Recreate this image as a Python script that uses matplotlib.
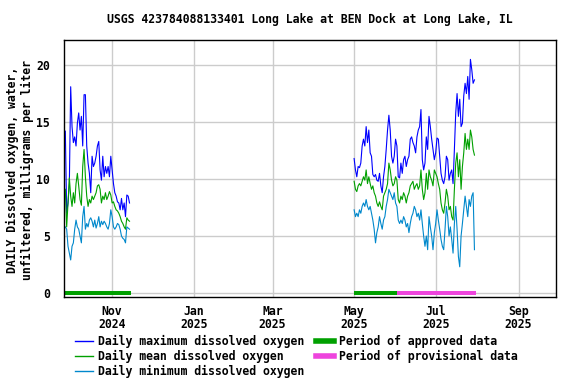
import numpy as np
import pandas as pd
import matplotlib
matplotlib.use("Agg")
import matplotlib.pyplot as plt
from matplotlib.lines import Line2D

plt.rcParams['font.family'] = ['DejaVu Sans Mono']
plt.rcParams['font.weight'] = 'bold'
FS = 8.3

title = "USGS 423784088133401 Long Lake at BEN Dock at Long Lake, IL"
ylabel = "DAILY Dissolved oxygen, water,\nunfiltered, milligrams per liter"

# fall 2024 record (daily, starting 2024-09-27)
start_1 = "2024-09-27"
max_1 = [14.2, 7.0, 7.9, 9.6, 18.1, 14.6, 13.2, 13.7, 12.9, 14.9, 15.8, 14.3, 15.5, 12.9,
         17.4, 17.4, 12.9, 11.4, 10.5, 8.8, 12.0, 11.1, 11.4, 12.0, 12.9, 13.3, 10.8, 9.9,
         12.0, 10.2, 11.1, 10.5, 11.1, 10.2, 12.0, 10.8, 9.6, 8.8, 8.5, 8.0, 7.9, 7.3, 8.3,
         7.3, 7.9, 6.7, 8.6, 8.5, 7.9]
mean_1 = [9.1, 5.8, 7.9, 10.1, 8.5, 7.6, 8.8, 7.9, 9.6, 10.5, 9.4, 8.2, 7.7, 11.1, 12.6,
          10.2, 8.5, 7.6, 8.2, 7.9, 8.5, 8.2, 8.5, 8.8, 9.4, 9.5, 9.1, 7.9, 8.5, 8.2, 8.8,
          8.2, 8.5, 8.9, 8.6, 7.9, 8.0, 7.6, 7.3, 7.2, 7.0, 6.7, 6.3, 6.1, 5.8, 5.6, 6.6,
          6.4, 6.3]
min_1 = [5.8, 5.6, 4.1, 3.5, 2.9, 4.1, 4.4, 5.6, 6.4, 5.8, 5.6, 5.0, 4.4, 6.7, 7.6, 5.6,
         6.1, 5.8, 6.4, 6.6, 6.3, 5.8, 6.4, 5.7, 6.1, 6.7, 5.8, 6.3, 6.0, 6.3, 6.1, 5.8,
         5.6, 6.1, 7.3, 6.7, 5.8, 5.6, 5.8, 6.1, 6.0, 5.6, 5.0, 4.8, 4.7, 4.4, 5.8, 5.7,
         5.6]

# summer 2025 record (daily, starting 2025-05-01)
start_2 = "2025-05-01"
max_2 = [11.8, 10.8, 10.2, 11.1, 11.0, 11.4, 12.9, 13.5, 12.9, 14.6, 13.2, 14.3, 12.3,
         12.0, 10.4, 10.2, 10.4, 9.9, 9.8, 10.5, 9.4, 8.8, 10.2, 11.1, 12.6, 14.3, 15.6,
         14.3, 12.0, 11.4, 12.0, 13.5, 12.9, 10.2, 10.1, 11.4, 10.5, 11.7, 12.0, 11.1,
         11.7, 12.0, 13.5, 13.7, 13.2, 12.9, 12.3, 13.7, 14.3, 14.6, 16.1, 11.7, 10.8,
         11.4, 13.7, 12.6, 15.5, 14.6, 13.5, 12.6, 11.7, 12.3, 13.6, 13.5, 12.0, 10.5,
         9.9, 9.6, 10.2, 12.0, 11.7, 9.9, 10.5, 10.8, 9.6, 12.6, 15.8, 17.5, 15.5, 17.0,
         14.6, 14.9, 17.3, 18.4, 17.5, 19.0, 17.0, 20.5, 19.6, 18.4, 18.7]
mean_2 = [9.8, 9.1, 8.9, 9.4, 9.6, 9.4, 9.8, 10.2, 9.9, 10.8, 9.6, 10.2, 9.6, 9.1, 9.4,
          8.8, 8.5, 7.9, 7.6, 8.0, 7.6, 7.3, 8.5, 8.8, 9.1, 9.6, 11.4, 10.8, 9.9, 9.4,
          9.6, 10.2, 9.9, 8.2, 7.9, 8.5, 8.2, 8.8, 8.5, 7.9, 8.5, 8.8, 9.4, 9.6, 9.8,
          9.1, 9.4, 9.6, 9.1, 9.4, 10.8, 9.1, 8.2, 8.8, 10.5, 9.1, 10.8, 10.2, 9.9, 9.4,
          10.8, 10.5, 10.2, 9.6, 9.1, 7.9, 7.3, 7.0, 7.9, 9.1, 8.5, 7.3, 7.6, 6.7, 6.4,
          9.1, 11.4, 12.3, 10.2, 11.7, 9.1, 11.1, 12.3, 14.0, 12.6, 13.5, 12.6, 14.3,
          13.7, 12.6, 12.1]
min_2 = [7.3, 6.7, 7.0, 6.7, 7.3, 7.0, 7.6, 7.9, 7.6, 8.2, 7.6, 7.3, 7.6, 7.0, 6.4, 5.6,
         4.4, 5.3, 5.8, 6.7, 6.1, 5.6, 6.4, 6.7, 7.6, 8.2, 9.1, 8.8, 8.5, 8.2, 8.8, 7.9,
         7.6, 6.4, 6.1, 6.4, 6.1, 6.7, 6.4, 5.8, 6.1, 5.3, 6.1, 6.7, 7.0, 7.6, 7.3, 6.7,
         7.0, 6.4, 7.3, 6.1, 5.0, 4.1, 5.0, 3.8, 6.7, 5.8, 5.0, 3.8, 5.3, 6.1, 7.3, 6.4,
         5.6, 4.7, 4.1, 3.8, 5.6, 7.6, 6.7, 5.0, 5.8, 4.7, 3.5, 6.1, 7.6, 5.6, 3.2, 2.3,
         5.0, 6.1, 7.3, 8.5, 7.6, 6.7, 8.2, 7.6, 8.5, 8.8, 3.8]

# approval periods (start, end)
approved = [("2024-09-26", "2024-11-15"), ("2025-05-01", "2025-06-02")]
provisional = [("2025-06-02", "2025-07-31")]

tick_dates = ["2024-11-01", "2025-01-01", "2025-03-01", "2025-05-01", "2025-07-01", "2025-09-01"]
tick_labels = ["Nov\n2024", "Jan\n2025", "Mar\n2025", "May\n2025", "Jul\n2025", "Sep\n2025"]

c_max = "#0000ff"
c_mean = "#00a000"
c_min = "#0088cc"
c_prov = "#ee44dd"

fig = plt.figure(figsize=(5.76, 3.84), dpi=100)
ax = fig.add_axes([64 / 576, 1 - 297 / 384, 492 / 576, 257 / 384])

for start, mx, mn, lo in [(start_1, max_1, mean_1, min_1), (start_2, max_2, mean_2, min_2)]:
    d = pd.date_range(start, periods=len(mx), freq="D")
    ax.plot(d, mx, color=c_max, lw=0.8)
    ax.plot(d, mn, color=c_mean, lw=0.8)
    ax.plot(d, lo, color=c_min, lw=0.8)

for a, b in approved:
    ax.plot([pd.Timestamp(a), pd.Timestamp(b)], [0, 0], color=c_mean, lw=2.9,
            solid_capstyle="butt", clip_on=False)
for a, b in provisional:
    ax.plot([pd.Timestamp(a), pd.Timestamp(b)], [0, 0], color=c_prov, lw=2.9,
            solid_capstyle="butt", clip_on=False)

ax.set_xlim(pd.Timestamp("2024-09-26"), pd.Timestamp("2025-09-29"))
ax.set_ylim(-0.35, 22.2)
ax.set_yticks([0, 5, 10, 15, 20])
ax.set_xticks([pd.Timestamp(t) for t in tick_dates])
ax.set_xticklabels(tick_labels)
for lab in ax.get_xticklabels():
    lab.set_linespacing(0.95)
ax.tick_params(length=0, labelsize=FS, pad=6)
ax.tick_params(axis="y", pad=10)
ax.grid(True, color="#cccccc", lw=1)
ax.set_axisbelow(True)
for s in ax.spines.values():
    s.set_linewidth(1)

fig.text(310 / 576, 1 - 20 / 384, title, ha="center", va="center", fontsize=FS, fontweight="bold")
fig.text(20 / 576, 1 - 170 / 384, ylabel, ha="center", va="center", rotation=90,
         fontsize=FS, fontweight="bold", linespacing=1.1)

handles = [Line2D([], [], color=c_max, lw=1),
           Line2D([], [], color=c_mean, lw=1),
           Line2D([], [], color=c_min, lw=1),
           Line2D([], [], color=c_mean, lw=4),
           Line2D([], [], color=c_prov, lw=4)]
labels = ["Daily maximum dissolved oxygen", "Daily mean dissolved oxygen",
          "Daily minimum dissolved oxygen", "Period of approved data",
          "Period of provisional data"]
fig.legend(handles, labels, loc="upper left", bbox_to_anchor=(75 / 576, 1 - 335 / 384),
           ncol=2, frameon=False, fontsize=FS, borderpad=0, borderaxespad=0,
           handlelength=1.55, handletextpad=0.45, columnspacing=1.0, labelspacing=0.18)

fig.savefig("out.png", dpi=100)
